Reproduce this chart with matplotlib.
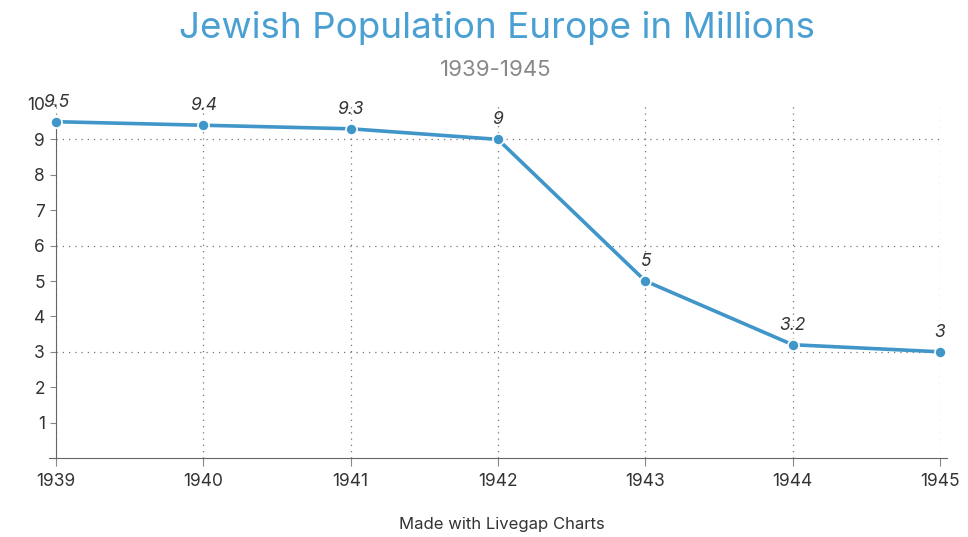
import matplotlib.pyplot as plt

years = [1939, 1940, 1941, 1942, 1943, 1944, 1945]
population = [9.5, 9.4, 9.3, 9, 5, 3.2, 3]
y_ticks = [1, 2, 3, 4, 5, 6, 7, 8, 9, 10]
grid_y = [3, 6, 9]

LINE_COLOR = "#4096c9"
TITLE_COLOR = "#4a9fd3"
TEXT_COLOR = "#333333"

plt.rcParams["font.family"] = ["Inter", "DejaVu Sans"]

fig = plt.figure(figsize=(9.68, 5.37), dpi=100)
ax = fig.add_axes([56 / 968, 79 / 537, 884 / 968, 354 / 537])

ax.plot(years, population, color=LINE_COLOR, linewidth=2.6, marker="o",
        markersize=8, markerfacecolor=LINE_COLOR, markeredgecolor="white",
        markeredgewidth=1.2, clip_on=False, zorder=3)

for x, y in zip(years, population):
    ax.annotate(f"{y:g}", (x, y), xytext=(0, 14), textcoords="offset points",
                ha="center", va="center", fontsize=12.5, style="italic",
                color=TEXT_COLOR)

ax.set_xlim(years[0], years[-1])
ax.set_ylim(0, 10)
ax.set_xticks(years)
ax.set_yticks(y_ticks)

ax.grid(axis="x", linestyle=(0, (1, 4)), color="#777777", linewidth=0.9)
for gy in grid_y:
    ax.axhline(gy, linestyle=(0, (1, 4)), color="#777777", linewidth=0.9,
               zorder=1)

for side in ("top", "right"):
    ax.spines[side].set_visible(False)
ax.spines["left"].set_color("#666666")
ax.spines["bottom"].set_color("#666666")
ax.spines["left"].set_bounds(0, 9.3)
ax.spines["bottom"].set_bounds(years[0] - 0.05, years[-1] + 0.05)
ax.tick_params(axis="both", colors="#888888", labelcolor=TEXT_COLOR,
               labelsize=12.5, length=4, width=0.8)
ax.tick_params(axis="x", length=6, pad=5)
ax.tick_params(axis="y", pad=4)

fig.text(0.513, 0.948, "Jewish Population Europe in Millions", ha="center",
         va="center", fontsize=26.5, color=TITLE_COLOR)
fig.text(0.512, 0.869, "1939-1945", ha="center", va="center", fontsize=16,
         color="#888888")
fig.text(0.518, 0.024, "Made with Livegap Charts", ha="center", va="center",
         fontsize=12, color=TEXT_COLOR)

fig.savefig("out.png", dpi=100)
